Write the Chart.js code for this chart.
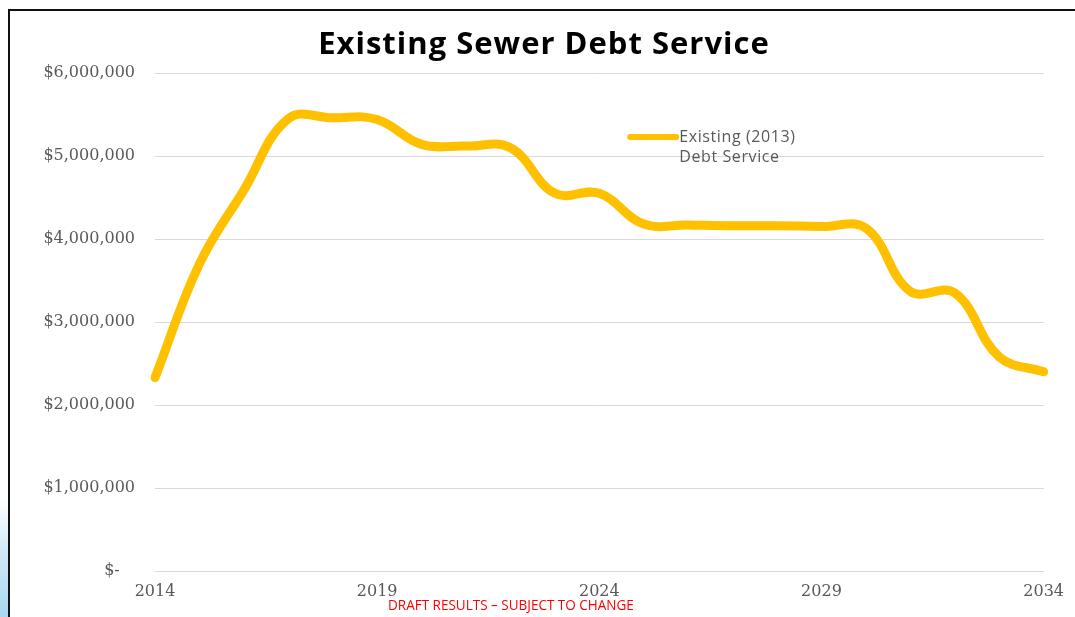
<!DOCTYPE html>
<html>
<head>
<meta charset="utf-8">
<script src="https://cdn.jsdelivr.net/npm/chart.js@4/dist/chart.umd.min.js"></script>
<style>
  html, body { margin: 0; padding: 0; background: #fff; }
  #wrap { position: relative; width: 1075px; height: 617px; overflow: hidden; }
  #swoosh { position: absolute; left: 0; top: 500px; width: 10px; height: 117px;
            background: linear-gradient(180deg, rgba(200,228,245,0) 0%, #cfe8f7 45%, #a9d6f0 100%); }
  #frame { position: absolute; left: 8px; top: 9px; width: 1100px; height: 700px;
           border-top: 2px solid #111; border-left: 2px solid #111; }
  #title { position: absolute; left: 0; width: 1088px; top: 21px; text-align: center; letter-spacing: 1px;
           font-family: "Open Sans", Lato, sans-serif; font-weight: bold; font-size: 31px; color: #000; }
  #draft { position: absolute; left: 388px; top: 594px; color: #ff0000; white-space: nowrap;
           font-family: "Open Sans", sans-serif; font-size: 15px;
           transform: scaleX(0.9); transform-origin: left top; }
  canvas { position: absolute; left: 0; top: 0; }
</style>
</head>
<body>
<div id="wrap">
  <div id="swoosh"></div>
  <div id="frame"></div>
  <canvas id="debtChart" width="1075" height="617"></canvas>
  <div id="title">Existing Sewer Debt Service</div>
  <div id="draft">DRAFT RESULTS – SUBJECT TO CHANGE</div>
</div>
<script>
// Data
const years = ['2014', '2015', '2016', '2017', '2018', '2019', '2020', '2021', '2022', '2023', '2024',
               '2025', '2026', '2027', '2028', '2029', '2030', '2031', '2032', '2033', '2034'];
const debtService = [2330000, 3700000, 4590000, 5450000, 5460000, 5440000, 5140000, 5120000, 5100000, 4550000, 4550000,
                     4180000, 4170000, 4160000, 4160000, 4150000, 4130000, 3370000, 3350000, 2580000, 2400000];
const yTicks = [0, 1000000, 2000000, 3000000, 4000000, 5000000, 6000000];
const seriesLabel = ['Existing (2013)', 'Debt Service'];

const gold = '#ffc000';
const tickColor = '#595959';
const gridColor = '#d9d9d9';

function fmtMoney(v) {
    if (v === 0) return '$-   ';
    return '$' + v.toLocaleString('en-US');
}

// Legend drawn inside the plot, like the original
const insideLegend = {
    id: 'insideLegend',
    afterDraw(chart) {
        const { ctx, chartArea } = chart;
        const x = chartArea.left + (630 - 155) / 892 * chartArea.width;
        const y = chartArea.top + (137 - 73) / 498 * chartArea.height;
        ctx.save();
        ctx.strokeStyle = gold;
        ctx.lineWidth = 6;
        ctx.lineCap = 'round';
        ctx.beginPath();
        ctx.moveTo(x + 2, y);
        ctx.lineTo(x + 48, y);
        ctx.stroke();
        ctx.fillStyle = tickColor;
        ctx.font = '16px "Open Sans", sans-serif';
        ctx.letterSpacing = '0.6px';
        ctx.textBaseline = 'middle';
        ctx.fillText(seriesLabel[0], x + 51, y);
        ctx.fillText(seriesLabel[1], x + 51, y + 20);
        ctx.restore();
    }
};

const ctx = document.getElementById('debtChart').getContext('2d');
new Chart(ctx, {
    type: 'line',
    data: {
        labels: years,
        datasets: [{
            label: seriesLabel.join(' '),
            data: debtService,
            borderColor: gold,
            borderWidth: 9,
            borderCapStyle: 'round',
            borderJoinStyle: 'round',
            pointRadius: 0,
            tension: 0.4,
            fill: false
        }]
    },
    options: {
        responsive: false,
        animation: false,
        layout: { padding: { top: 73, right: 28, bottom: 6, left: 0 } },
        plugins: { legend: { display: false }, tooltip: { enabled: false } },
        scales: {
            x: {
                offset: false,
                border: { display: false },
                grid: { display: false, drawTicks: false },
                afterFit: s => { s.height = 40; },
                ticks: {
                    autoSkip: false,
                    maxRotation: 0,
                    padding: 11,
                    color: tickColor,
                    font: { family: '"DejaVu Serif"', size: 16 },
                    callback: (v, i) => (i % 5 === 0 ? years[i] : '')
                }
            },
            y: {
                min: 0,
                max: 6000000,
                border: { display: false },
                grid: { color: gridColor, lineWidth: 1, drawTicks: false },
                afterFit: s => { s.width = 155; },
                afterBuildTicks: s => { s.ticks = yTicks.map(v => ({ value: v })); },
                ticks: {
                    padding: 20,
                    color: tickColor,
                    font: { family: '"DejaVu Serif"', size: 16 },
                    callback: v => fmtMoney(v)
                }
            }
        }
    },
    plugins: [insideLegend]
});
</script>
</body>
</html>
